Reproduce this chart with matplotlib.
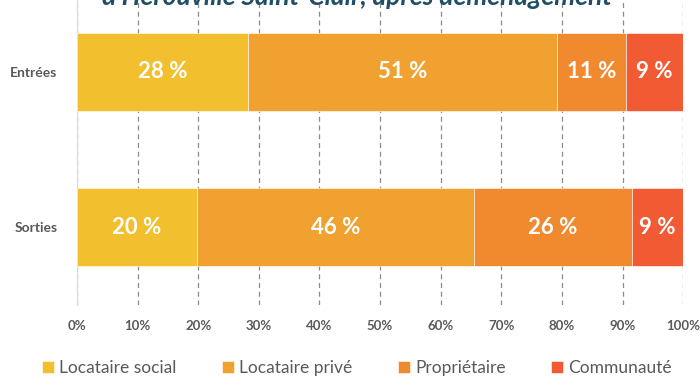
import matplotlib.pyplot as plt
import numpy as np

categories = ["Entrées", "Sorties"]
series = ["Locataire social", "Locataire privé", "Propriétaire", "Communauté"]
values = {
    "Locataire social": [28.2, 19.8],
    "Locataire privé": [51.0, 45.7],
    "Propriétaire": [11.4, 26.1],
    "Communauté": [9.4, 8.4],
}
labels = {
    "Locataire social": ["28 %", "20 %"],
    "Locataire privé": ["51 %", "46 %"],
    "Propriétaire": ["11 %", "26 %"],
    "Communauté": ["9 %", "9 %"],
}
colors = ["#F2BF2F", "#F1A12F", "#F18A2F", "#F15A32"]
xticks = np.arange(0, 101, 10)

plt.rcParams['font.family'] = ['Lato', 'DejaVu Sans']

fig = plt.figure(figsize=(7, 3.76), dpi=100)
ax = fig.add_axes([0.11, 0.189, 0.866, 0.827])

y = np.arange(len(categories))
left = np.zeros(len(categories))
for name, col in zip(series, colors):
    vals = np.array(values[name])
    ax.barh(y, vals, left=left, height=0.5, color=col, label=name,
            edgecolor='white', linewidth=0.4, zorder=3)
    for yi, v, l, txt in zip(y, vals, left, labels[name]):
        ax.text(l + v / 2, yi, txt, ha='center', va='center', color='white',
                fontsize=16, fontweight='bold', zorder=4)
    left += vals

ax.set_xlim(0, 100)
ax.set_ylim(1.5, -0.5)
ax.set_yticks(y)
ax.set_yticklabels(categories, fontsize=10, fontweight='bold', color='#595959')
ax.set_xticks(xticks)
ax.set_xticklabels([f"{t}%" for t in xticks], fontsize=9.5, fontweight='bold', color='#595959')
ax.tick_params(length=0, pad=14)
ax.tick_params(axis='x', pad=11)
ax.xaxis.grid(True, color='#8c8c8c', linestyle=(0, (4, 3)), linewidth=0.9, zorder=0)
for s in ['top', 'right', 'bottom']:
    ax.spines[s].set_visible(False)
ax.spines['left'].set_color('#d9d9d9')

# titre coupé en haut, comme dans l'original
fig.text(0.51, 0.987, "d'Hérouville Saint-Clair, après déménagement", ha='center',
         va='baseline', fontsize=19, fontweight='bold', style='italic', color='#1F4E66')

fig.legend(loc='center', bbox_to_anchor=(0.51, 0.02), ncol=4, frameon=False,
           fontsize=12.5, handlelength=0.7, handleheight=0.7, handletextpad=0.3,
           columnspacing=2.6, labelcolor='#595959')

fig.savefig("out.png", dpi=100)
